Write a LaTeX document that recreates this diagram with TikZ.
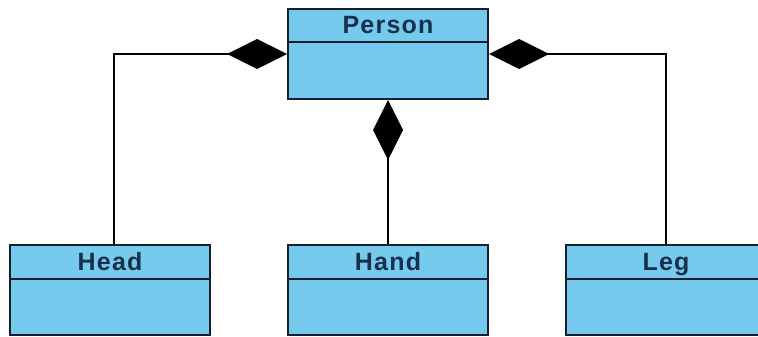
\documentclass[tikz,border=0pt]{standalone}
\usepackage{fontspec}
\setmainfont{Liberation Sans}[LetterSpace=5]
\usetikzlibrary{arrows.meta}
\definecolor{boxfill}{HTML}{76CAEE}
\definecolor{boxline}{HTML}{15202E}
\definecolor{boxtext}{HTML}{17304C}
\tikzset{
  umlbox/.style={draw=boxline, line width=2pt, fill=boxfill, minimum width=200pt, minimum height=90pt, inner sep=0pt},
  umltitle/.style={text=boxtext, font=\fontsize{25}{27}\selectfont\bfseries, text height=18pt, text depth=0pt, inner sep=0pt},
  divider/.style={draw=boxline, line width=2pt},
  compose/.style={draw=black, line width=2pt, -{Diamond[length=60pt,width=30pt,fill=black]}}
}
\begin{document}
\begin{tikzpicture}[x=1pt,y=-1pt]
\useasboundingbox (0,0) rectangle (758,337);
\clip (0,0) rectangle (758,337);
% boxes
\node[umlbox] (person) at (388,54) {};
\node[umlbox] (head) at (110,290) {};
\node[umlbox] (hand) at (388,290) {};
\node[umlbox] (leg) at (666,290) {};
% dividers
\draw[divider] ([yshift=-34pt]person.north west) -- ([yshift=-34pt]person.north east);
\draw[divider] ([yshift=-35pt]head.north west) -- ([yshift=-35pt]head.north east);
\draw[divider] ([yshift=-35pt]hand.north west) -- ([yshift=-35pt]hand.north east);
\draw[divider] ([yshift=-35pt]leg.north west) -- ([yshift=-35pt]leg.north east);
% titles
\node[umltitle] (tperson) at ([yshift=-17pt]person.north) {Person};
\node[umltitle] (thead) at ([yshift=-17.5pt]head.north) {Head};
\node[umltitle] (thand) at ([yshift=-17.5pt]hand.north) {Hand};
\node[umltitle] (tleg) at ([yshift=-17.5pt]leg.north) {Leg};
% connectors
\draw[compose] ([xshift=4pt]head.north) |- (person.west);
\draw[compose] (leg.north) |- (person.east);
\draw[compose] (hand.north) -- (person.south);
\end{tikzpicture}
\end{document}
